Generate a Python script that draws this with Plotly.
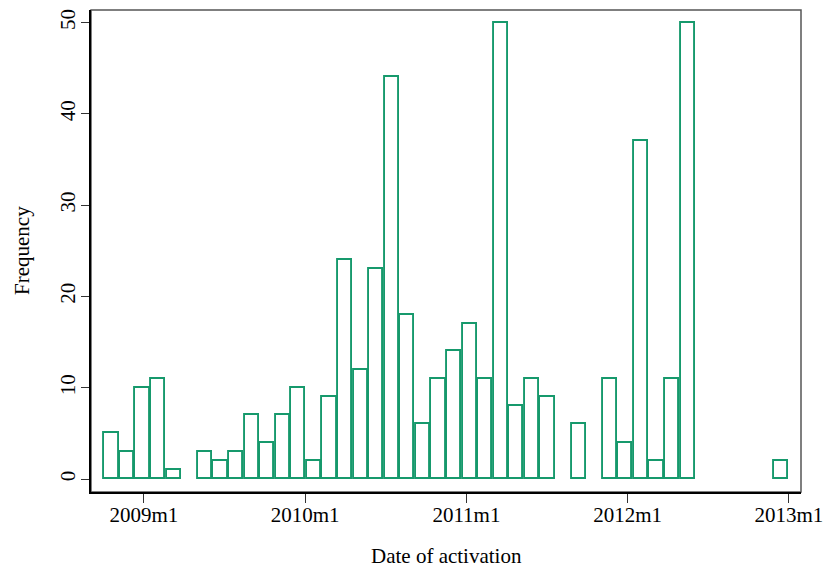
import plotly.graph_objects as go

# Histogram of activation dates (Stata monthly index: months since 1960m1)
hist_start = 585          # 2008m10
hist_end = 636            # 2013m1
counts = [5, 3, 10, 11, 1, 0, 3, 2, 3, 7,
          4, 7, 10, 2, 9, 24, 12, 23, 44, 18,
          6, 11, 14, 17, 11, 50, 8, 11, 9, 0,
          6, 0, 11, 4, 37, 2, 11, 50, 0, 0,
          0, 0, 0, 2]
tick_vals = [588, 600, 612, 624, 636]
tick_text = ["2009m1", "2010m1", "2011m1", "2012m1", "2013m1"]
y_ticks = [0, 10, 20, 30, 40, 50]

n_bins = len(counts)
bin_w = (hist_end - hist_start) / n_bins
centers = [hist_start + (i + 0.5) * bin_w for i in range(n_bins)]
heights = [c if c > 0 else None for c in counts]

GREEN = "#16996c"
FONT = "Liberation Serif"
FS = 21

fig = go.Figure()
fig.add_trace(go.Bar(
    x=centers, y=heights, width=bin_w * 0.91,
    marker=dict(color="rgba(255,255,255,0)", line=dict(color=GREEN, width=1.9)),
    showlegend=False, hoverinfo="skip",
))

fig.update_layout(
    width=825, height=569,
    margin=dict(l=91, r=24, t=10, b=77),
    paper_bgcolor="white", plot_bgcolor="white",
    font=dict(family=FONT, size=FS, color="black"),
    bargap=0,
    shapes=[dict(type="rect", xref="paper", yref="paper", x0=0, y0=0, x1=1, y1=1,
                 line=dict(color="#555555", width=1.5), layer="below")],
    annotations=[
        dict(text="Date of activation", xref="paper", yref="paper", x=0.5, y=0,
             yshift=-64, xanchor="center", yanchor="middle", showarrow=False,
             font=dict(family=FONT, size=FS, color="black")),
        dict(text="Frequency", xref="paper", yref="paper", x=0, y=0.5,
             xshift=-69, xanchor="center", yanchor="middle", textangle=-90,
             showarrow=False, font=dict(family=FONT, size=FS, color="black")),
    ],
)
fig.update_xaxes(
    range=[584.06, 636.9], tickvals=tick_vals, ticktext=tick_text,
    showgrid=False, zeroline=False, automargin=False,
    showline=True, linecolor="black", linewidth=2,
    ticks="outside", ticklen=9, tickwidth=1.3, tickcolor="#333333",
    ticklabelstandoff=-6,
    tickfont=dict(family=FONT, size=FS, color="black"),
)
fig.update_yaxes(
    range=[-1.42, 51.39], tickvals=y_ticks,
    showgrid=False, zeroline=False, automargin=False,
    showline=True, linecolor="black", linewidth=2,
    ticks="outside", ticklen=8, tickwidth=1.3, tickcolor="#333333",
    tickangle=-90, ticklabelstandoff=-2,
    tickfont=dict(family=FONT, size=FS, color="black"),
)

fig.write_html("out.html", config={"displayModeBar": False},
               post_script="document.body.style.margin='0';document.body.style.overflow='hidden';")
